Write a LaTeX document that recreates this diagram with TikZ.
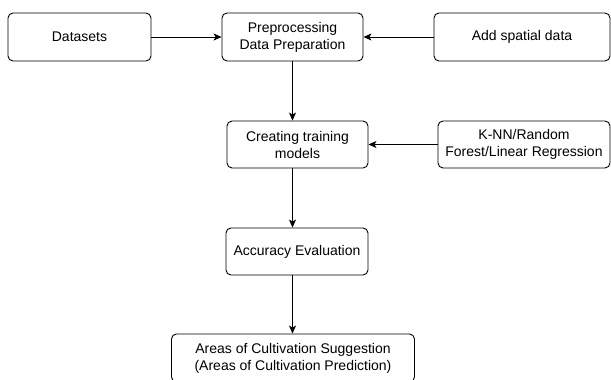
\documentclass[tikz,border=0pt]{standalone}
\usepackage{fontspec}
\setmainfont{Liberation Sans}
\usetikzlibrary{arrows.meta}

\begin{document}
\begin{tikzpicture}[x=1pt,y=-1pt,
    box/.style={draw, rounded corners=5pt, line width=0.9pt, align=center,
        inner sep=0pt, minimum height=48pt, font=\fontsize{14}{17}\selectfont},
    arr/.style={line width=0.9pt, -{Stealth[length=8pt,width=7pt,inset=2pt]}}]
\useasboundingbox (0,0) rectangle (611,380);
\clip (0,0) rectangle (611,380);

% Top row
\node[box, minimum width=143pt] (data) at (79.5,37) {Datasets};
\node[box, minimum width=141pt] (prep) at (292.5,37) {Preprocessing\\Data Preparation};
\node[box, minimum width=176pt] (spatial) at (522,37) {Add spatial data};

% Training row
\node[box, minimum width=141pt, minimum height=47pt] (train) at (297.5,144.5) {Creating training\\models};
\node[box, minimum width=172pt, minimum height=47pt] (algo) at (524,144.5) {K-NN/Random\\Forest/Linear Regression};

% Evaluation and result
\node[box, minimum width=142pt, minimum height=47pt] (eval) at (297,251.5) {Accuracy Evaluation};
\node[box, minimum width=243pt, minimum height=48pt] (result) at (293,358) {Areas of Cultivation Suggestion\\(Areas of Cultivation Prediction)};

% Arrows
\draw[arr] (data) -- (prep);
\draw[arr] (spatial) -- (prep);
\draw[arr] (algo) -- (train);
\draw[arr] (prep.south) -- (prep.south |- train.north);
\draw[arr] (train.south -| prep) -- (eval.north -| prep);
\draw[arr] (eval.south -| prep) -- (result.north -| prep);
\end{tikzpicture}
\end{document}
